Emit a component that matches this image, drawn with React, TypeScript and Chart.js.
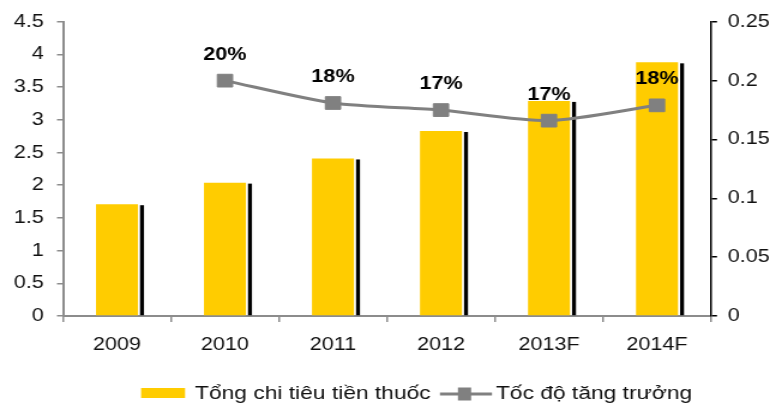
import { useEffect, useRef } from 'react';
import { Chart, registerables } from 'chart.js';

Chart.register(...registerables);

const categories = ['2009', '2010', '2011', '2012', '2013F', '2014F'];
const spending = [1.71, 2.04, 2.41, 2.83, 3.29, 3.88];
const growth: (number | null)[] = [null, 0.2, 0.181, 0.175, 0.166, 0.179];
const growthLabels: (string | null)[] = [null, '20%', '18%', '17%', '17%', '18%'];
const leftTickLabels = ['0', '0.5', '1', '1.5', '2', '2.5', '3', '3.5', '4', '4.5'];
const rightTickLabels = ['0', '0.05', '0.1', '0.15', '0.2', '0.25'];
const seriesNames = ['Tổng chi tiêu tiền thuốc', 'Tốc độ tăng trưởng'];

const INTERNAL_W = 652;
const H = 404;
const DISPLAY_W = 782;
const FONT = "'Liberation Sans', Arial, sans-serif";
const YELLOW = '#FFCC00';
const GREY = '#808080';
const AXIS_GREY = '#8c8c8c';
const TEXT = '#111111';

export default function App() {
  const ref = useRef<HTMLCanvasElement>(null);

  useEffect(() => {
    const canvas = ref.current;
    if (!canvas) return;

    const shadowPlugin = {
      id: 'barShadow',
      afterDatasetDraw(chart: any, args: any) {
        if (args.index !== 0) return;
        const ctx = chart.ctx;
        const meta = chart.getDatasetMeta(0);
        ctx.save();
        ctx.fillStyle = '#000';
        meta.data.forEach((bar: any) => {
          const { x, y, base, width } = bar.getProps(['x', 'y', 'base', 'width'], true);
          ctx.fillRect(x + width / 2 + 1.7, y + 1, 3.3, base - y - 1);
        });
        ctx.restore();
      },
    };

    const labelPlugin = {
      id: 'pointLabels',
      afterDatasetsDraw(chart: any) {
        const ctx = chart.ctx;
        const meta = chart.getDatasetMeta(1);
        ctx.save();
        ctx.font = `bold 18px ${FONT}`;
        ctx.fillStyle = '#000';
        ctx.textAlign = 'center';
        ctx.textBaseline = 'alphabetic';
        meta.data.forEach((pt: any, i: number) => {
          const lbl = growthLabels[i];
          if (!lbl) return;
          ctx.fillText(lbl, pt.x, pt.y - 21);
        });
        ctx.restore();
      },
    };

    const legendPlugin = {
      id: 'customLegend',
      afterDraw(chart: any) {
        const ctx = chart.ctx;
        ctx.save();
        ctx.fillStyle = YELLOW;
        ctx.fillRect(117.6, 388, 36.7, 10);
        ctx.fillStyle = TEXT;
        ctx.font = `19px ${FONT}`;
        ctx.textAlign = 'left';
        ctx.textBaseline = 'alphabetic';
        ctx.fillText(seriesNames[0], 162.6, 399);
        ctx.strokeStyle = GREY;
        ctx.lineWidth = 3;
        ctx.beginPath();
        ctx.moveTo(366.8, 394);
        ctx.lineTo(410.2, 394);
        ctx.stroke();
        ctx.fillStyle = GREY;
        ctx.fillRect(387.3 - 5.5, 394 - 6.5, 11, 13);
        ctx.fillStyle = TEXT;
        ctx.fillText(seriesNames[1], 413.5, 399);
        ctx.restore();
      },
    };

    const chart = new Chart(canvas, {
      type: 'bar',
      data: {
        labels: categories,
        datasets: [
          {
            type: 'bar',
            label: seriesNames[0],
            data: spending,
            backgroundColor: YELLOW,
            borderWidth: 0,
            barPercentage: 0.389,
            categoryPercentage: 1,
            yAxisID: 'y',
            order: 1,
          },
          {
            type: 'line',
            label: seriesNames[1],
            data: growth as any,
            borderColor: GREY,
            backgroundColor: GREY,
            borderWidth: 3,
            pointStyle: 'rect',
            pointRadius: 9,
            pointBorderWidth: 1,
            pointBackgroundColor: GREY,
            pointBorderColor: GREY,
            tension: 0.25,
            yAxisID: 'y1',
            order: 0,
          },
        ],
      },
      options: {
        responsive: false,
        devicePixelRatio: 1,
        animation: false,
        layout: { padding: { top: 19, bottom: 40, left: 0, right: 0 } },
        plugins: {
          legend: { display: false },
          tooltip: { enabled: false },
        },
        scales: {
          x: {
            offset: true,
            grid: {
              offset: true,
              drawOnChartArea: false,
              drawTicks: true,
              tickLength: 6,
              color: AXIS_GREY,
              lineWidth: 1.5,
            },
            border: { display: true, color: AXIS_GREY, width: 2 },
            ticks: {
              color: TEXT,
              font: { family: FONT, size: 18 },
              padding: 12.5,
              maxRotation: 0,
              autoSkip: false,
            },
            afterFit(scale: any) {
              scale.height = 48;
            },
          },
          y: {
            position: 'left',
            min: 0,
            max: 4.5,
            grid: {
              drawOnChartArea: false,
              drawTicks: true,
              tickLength: 5,
              color: AXIS_GREY,
              lineWidth: 1.5,
            },
            border: { display: true, color: AXIS_GREY, width: 2 },
            ticks: {
              stepSize: 0.5,
              color: TEXT,
              font: { family: FONT, size: 18 },
              padding: 11,
              callback: (_v: any, i: number) => leftTickLabels[i],
            },
            afterFit(scale: any) {
              scale.width = 52.5;
            },
          },
          y1: {
            position: 'right',
            min: 0,
            max: 0.25,
            grid: {
              drawOnChartArea: false,
              drawTicks: true,
              tickLength: 5,
              color: '#000',
              lineWidth: 1.5,
            },
            border: { display: true, color: '#000', width: 1.5 },
            ticks: {
              stepSize: 0.05,
              color: TEXT,
              font: { family: FONT, size: 18 },
              padding: 9,
              callback: (_v: any, i: number) => rightTickLabels[i],
            },
            afterFit(scale: any) {
              scale.width = 59.2;
            },
          },
        },
      } as any,
      plugins: [shadowPlugin, labelPlugin, legendPlugin],
    });

    return () => {
      chart.destroy();
    };
  }, []);

  return (
    <div style={{ position: 'fixed', left: 0, top: 0, width: DISPLAY_W, height: H, background: '#fff' }}>
      <canvas
        ref={ref}
        width={INTERNAL_W}
        height={H}
        style={{ width: `${DISPLAY_W}px`, height: `${H}px`, display: 'block' }}
      />
    </div>
  );
}
